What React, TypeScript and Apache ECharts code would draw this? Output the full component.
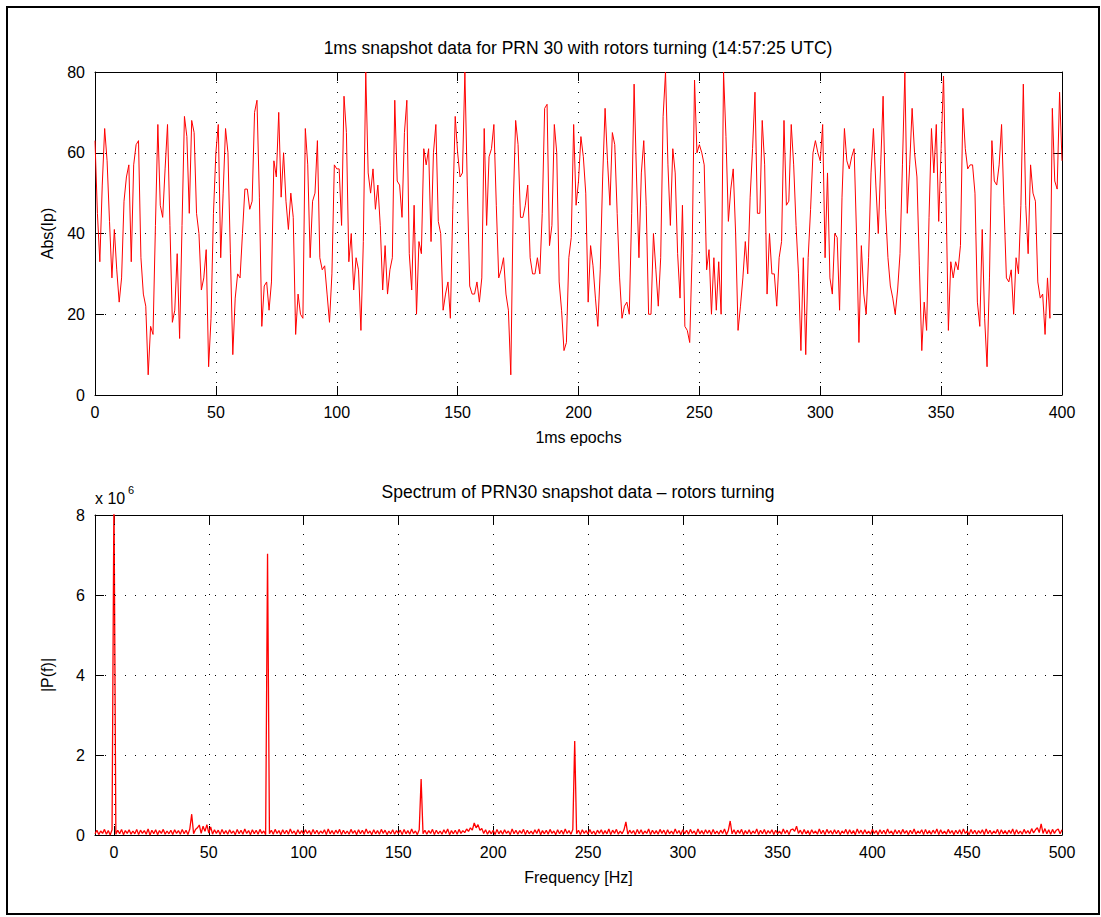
import React, { useEffect, useRef } from "react";
import * as echarts from "echarts";

// ---- Top panel: Abs(Ip) per 1 ms epoch (epochs 0..400) ----
const absIp: number[] = [
  63, 45, 33, 52, 66, 58, 43, 29, 41, 31,
  23, 29, 48, 54, 57, 33, 57, 62, 63, 34,
  25, 22, 5, 17, 15, 42, 67, 47, 44, 56,
  67, 42, 18, 21, 35, 14, 42, 69, 64, 45,
  68, 65, 45, 40, 26, 29, 36, 7, 19, 45,
  60, 67, 34, 50, 66, 60, 35, 10, 24, 30,
  29, 40, 51, 51, 46, 48, 70, 73, 49, 17,
  27, 28, 21, 28, 58, 54, 70, 49, 60, 48,
  41, 50, 44, 15, 25, 20, 19, 66, 57, 34,
  48, 50, 63, 34, 31, 32, 25, 18, 30, 57,
  56, 56, 42, 74, 65, 33, 40, 26, 34, 31,
  16, 38, 80, 55, 50, 56, 46, 52, 42, 26,
  37, 25, 31, 34, 73, 53, 52, 44, 65, 73,
  35, 26, 47, 20, 38, 35, 61, 57, 61, 38,
  60, 67, 43, 40, 21, 25, 28, 19, 46, 69,
  60, 54, 55, 80, 52, 27, 25, 25, 28, 23,
  29, 66, 42, 59, 61, 67, 47, 29, 31, 34,
  25, 21, 5, 47, 68, 62, 44, 44, 47, 52,
  34, 30, 30, 34, 30, 45, 71, 72, 37, 42,
  67, 60, 28, 21, 11, 13, 34, 39, 67, 47,
  53, 64, 59, 50, 23, 37, 32, 24, 17, 31,
  54, 71, 58, 47, 65, 62, 45, 29, 19, 22,
  23, 20, 45, 77, 54, 34, 55, 63, 47, 20,
  20, 40, 31, 22, 34, 69, 80, 57, 42, 61,
  55, 35, 24, 47, 17, 16, 13, 35, 78, 60,
  62, 60, 57, 31, 36, 20, 34, 21, 33, 20,
  80, 64, 43, 51, 56, 40, 16, 22, 29, 38,
  30, 49, 61, 75, 45, 45, 68, 57, 25, 40,
  30, 30, 22, 34, 38, 68, 47, 48, 67, 57,
  42, 30, 11, 34, 10, 34, 46, 60, 63, 60,
  58, 67, 34, 55, 29, 25, 40, 39, 21, 49,
  66, 58, 56, 59, 61, 40, 13, 37, 25, 20,
  34, 55, 66, 52, 40, 57, 74, 46, 34, 27,
  24, 20, 26, 35, 57, 80, 45, 57, 71, 60,
  54, 32, 11, 23, 16, 44, 66, 55, 67, 43,
  61, 79, 50, 16, 33, 29, 33, 31, 37, 71,
  61, 56, 57, 57, 50, 23, 17, 41, 19, 7,
  29, 63, 53, 52, 57, 67, 47, 29, 28, 31,
  20, 34, 30, 47, 77, 47, 35, 57, 50, 48,
  28, 24, 25, 15, 29, 19, 71, 53, 51, 75,
  58,
];

// ---- Bottom panel: |P(f)| in hundredths of 10^6, 1 Hz steps from -10 Hz ----
const specStartHz = -10;
const specNeg = [3, 12, 1, 10, 4, 14, 2, 11, 0, 13];
const spec000 = [
  860, 2, 12, 3, 14, 1, 11, 4, 13, 2, 10,
  3, 14, 1, 12, 4, 11, 2, 15, 0, 12,
  3, 13, 1, 11, 4, 14, 2, 10, 3, 12,
  1, 13, 4, 11, 2, 14, 3, 12, 1, 15,
  52, 3, 14, 18, 25, 4, 22, 9, 26, 5,
  20, 2, 13, 4, 12, 1, 14, 3, 11, 2,
  13, 4, 10, 1, 14, 3, 12, 2, 15, 4,
  11, 1, 13, 3, 12, 2, 14, 4, 10, 1,
  703, 3, 12, 2, 14, 4, 11, 1, 13, 3,
  12, 2, 15, 4, 10, 1, 13, 3, 11,
];
const spec100 = [
  2, 13, 4, 11, 1, 14, 3, 12, 2, 10,
  4, 13, 1, 15, 3, 11, 2, 12, 4, 14,
  1, 12, 3, 10, 2, 14, 4, 11, 1, 13,
  3, 12, 2, 15, 4, 10, 1, 13, 3, 11,
  2, 14, 4, 12, 1, 10, 3, 13, 2, 11,
  4, 12, 1, 14, 3, 11, 2, 15, 4, 10,
  1, 13, 140, 3, 12, 2, 11, 4, 14, 1,
  12, 3, 10, 2, 13, 4, 15, 1, 11, 3,
  12, 2, 14, 4, 11, 6, 15, 9, 18, 12,
  30, 18, 26, 12, 16, 4, 13, 2, 11, 3,
];
const spec200 = [
  12, 1, 14, 3, 11, 2, 13, 4, 10, 1,
  15, 3, 12, 2, 11, 4, 14, 1, 12, 3,
  10, 2, 13, 4, 15, 1, 11, 3, 12, 2,
  14, 4, 10, 1, 13, 3, 12, 2, 15, 4,
  11, 2, 14, 235, 3, 12, 1, 13, 4, 11,
  2, 14, 3, 10, 1, 12, 4, 13, 2, 11,
  3, 15, 1, 12, 4, 14, 2, 10, 3, 13,
  33, 2, 12, 4, 11, 1, 14, 3, 13, 2,
  10, 4, 15, 1, 12, 3, 11, 2, 14, 4,
  12, 1, 13, 3, 10, 2, 15, 4, 11, 1,
];
const spec300 = [
  13, 3, 12, 2, 14, 4, 10, 1, 15, 3,
  11, 2, 13, 4, 12, 1, 14, 3, 10, 2,
  12, 4, 15, 1, 11, 35, 3, 13, 2, 12,
  4, 14, 1, 11, 3, 13, 2, 10, 4, 15,
  1, 12, 3, 14, 2, 11, 4, 13, 1, 12,
  3, 10, 2, 15, 4, 12, 1, 13, 15, 9,
  22, 4, 12, 2, 14, 3, 11, 1, 13, 4,
  10, 2, 15, 3, 12, 1, 14, 4, 11, 2,
  13, 3, 12, 1, 10, 4, 14, 2, 13, 3,
  11, 1, 15, 4, 12, 2, 13, 3, 10, 2,
];
const spec400 = [
  14, 4, 11, 1, 13, 3, 12, 2, 15, 4,
  10, 1, 13, 3, 12, 2, 14, 4, 11, 1,
  12, 3, 15, 2, 10, 4, 13, 1, 14, 3,
  11, 2, 12, 4, 15, 1, 13, 3, 10, 2,
  14, 4, 11, 1, 12, 3, 13, 2, 15, 4,
  10, 1, 14, 3, 12, 2, 11, 4, 13, 1,
  15, 3, 12, 2, 10, 4, 14, 1, 13, 3,
  11, 2, 12, 4, 15, 1, 13, 3, 10, 2,
  14, 4, 11, 3, 16, 5, 13, 18, 6, 28,
  4, 16, 3, 13, 2, 14, 4, 12, 15, 3, 13,
];
const spectrum = [...specNeg, ...spec000, ...spec100, ...spec200, ...spec300, ...spec400];

const freqTicks = [0, 50, 100, 150, 200, 250, 300, 350, 400, 450, 500];

const TITLE_TOP = "1ms snapshot data for PRN 30 with rotors turning (14:57:25 UTC)";
const TITLE_BOTTOM = "Spectrum of PRN30 snapshot data \u2013 rotors turning";

const FONT = "'Liberation Sans', Arial, Helvetica, sans-serif";
const FS = 16;
const TFS = 17.5;

export default function App() {
  const ref = useRef<HTMLDivElement>(null);

  useEffect(() => {
    document.body.style.margin = "0";
    const chart = echarts.init(ref.current!, null, { renderer: "svg" });

    const gridLine = { show: true, lineStyle: { color: "#000", type: [1, 9], width: 1 } };
    const axisLine = { show: true, onZero: false, lineStyle: { color: "#000", width: 1 } };
    const tick = { show: true, inside: true, length: 9, lineStyle: { color: "#000" } };
    const label = { color: "#000", fontSize: FS, fontFamily: FONT };
    const nameStyle = { color: "#000", fontSize: FS, fontFamily: FONT };

    const option: any = {
      animation: false,
      backgroundColor: "#fff",
      textStyle: { fontFamily: FONT },
      grid: [
        { left: 95, top: 72, width: 967, height: 323 },
        { left: 95, top: 515, width: 967, height: 320 },
      ],
      xAxis: [
        {
          gridIndex: 0, type: "value", min: 0, max: 400, interval: 50, position: "bottom",
          axisLine, axisTick: tick, axisLabel: { ...label, margin: 9 }, splitLine: gridLine,
          name: "1ms epochs", nameLocation: "middle", nameGap: 34, nameTextStyle: nameStyle,
        },
        {
          gridIndex: 0, type: "value", min: 0, max: 400, interval: 50, position: "top",
          axisLine, axisTick: tick, axisLabel: { show: false }, splitLine: { show: false },
        },
        {
          gridIndex: 1, type: "value", min: specStartHz, max: 500, position: "bottom",
          axisLine,
          axisTick: { ...tick, customValues: freqTicks },
          axisLabel: { ...label, margin: 9, customValues: freqTicks },
          splitLine: { show: false },
          name: "Frequency [Hz]", nameLocation: "middle", nameGap: 34, nameTextStyle: nameStyle,
        },
        {
          gridIndex: 1, type: "value", min: specStartHz, max: 500, position: "top",
          axisLine,
          axisTick: { ...tick, customValues: freqTicks },
          axisLabel: { show: false, customValues: freqTicks },
          splitLine: { show: false },
        },
      ],
      yAxis: [
        {
          gridIndex: 0, type: "value", min: 0, max: 80, interval: 20, position: "left",
          axisLine, axisTick: tick, axisLabel: { ...label, margin: 10 }, splitLine: gridLine,
          name: "Abs(Ip)", nameLocation: "middle", nameGap: 40, nameRotate: 90, nameTextStyle: nameStyle,
        },
        {
          gridIndex: 0, type: "value", min: 0, max: 80, interval: 20, position: "right",
          axisLine, axisTick: tick, axisLabel: { show: false }, splitLine: { show: false },
        },
        {
          gridIndex: 1, type: "value", min: 0, max: 8, interval: 2, position: "left",
          axisLine, axisTick: tick, axisLabel: { ...label, margin: 10 }, splitLine: gridLine,
          name: "|P(f)|", nameLocation: "middle", nameGap: 40, nameRotate: 90, nameTextStyle: nameStyle,
        },
        {
          gridIndex: 1, type: "value", min: 0, max: 8, interval: 2, position: "right",
          axisLine, axisTick: tick, axisLabel: { show: false }, splitLine: { show: false },
        },
      ],
      graphic: [
        {
          type: "rect", silent: true, z: 100,
          shape: { x: 7, y: 7, width: 1092, height: 907 },
          style: { fill: "none", stroke: "#000", lineWidth: 2 },
        },
        {
          type: "text", x: 578, y: 48, silent: true,
          style: { text: TITLE_TOP, fill: "#000", font: `${TFS}px ${FONT}`, textAlign: "center", textVerticalAlign: "middle" },
        },
        {
          type: "text", x: 578, y: 492, silent: true,
          style: { text: TITLE_BOTTOM, fill: "#000", font: `${TFS}px ${FONT}`, textAlign: "center", textVerticalAlign: "middle" },
        },
        {
          type: "text", x: 95, y: 498, silent: true,
          style: { text: "x 10", fill: "#000", font: `${FS}px ${FONT}`, textAlign: "left", textVerticalAlign: "middle" },
        },
        {
          type: "text", x: 128, y: 490, silent: true,
          style: { text: "6", fill: "#000", font: `11px ${FONT}`, textAlign: "left", textVerticalAlign: "middle" },
        },
      ],
      series: [
        {
          type: "line", xAxisIndex: 0, yAxisIndex: 0, symbol: "none", showSymbol: false,
          data: absIp.map((v, i) => [i, v]),
          lineStyle: { color: "#ff0000", width: 1 },
          itemStyle: { color: "#ff0000" },
        },
        {
          type: "line", xAxisIndex: 2, yAxisIndex: 2, symbol: "none", showSymbol: false,
          data: spectrum.map((v, i) => [specStartHz + i, v / 100]),
          lineStyle: { color: "#ff0000", width: 1.3 },
          itemStyle: { color: "#ff0000" },
          markLine: {
            silent: true, symbol: ["none", "none"], label: { show: false }, animation: false,
            lineStyle: { color: "#000", type: [1, 9], width: 1 },
            emphasis: { disabled: true },
            data: freqTicks.map((f) => ({ xAxis: f })),
          },
        },
      ],
    };

    chart.setOption(option);
    return () => chart.dispose();
  }, []);

  return <div ref={ref} style={{ width: 1101, height: 917 }} />;
}
